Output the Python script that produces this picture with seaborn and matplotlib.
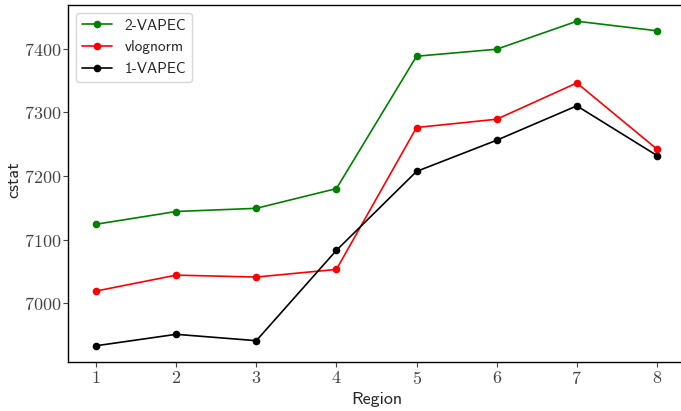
import pandas as pd
import numpy as np
import matplotlib
import matplotlib.pyplot as plt
import seaborn as sns

matplotlib.use('Agg')

# values
regions = [1, 2, 3, 4, 5, 6, 7, 8]
vapec2 = [7124, 7144, 7149, 7180, 7388, 7399, 7443, 7428]
vlognorm = [7019, 7044, 7041, 7053, 7276, 7289, 7346, 7242]
vapec1 = [6933, 6951, 6941, 7083, 7207, 7256, 7310, 7232]

models = ['2-VAPEC', 'vlognorm', '1-VAPEC']
colors = ['green', 'red', 'black']

data = pd.DataFrame({
    'Region': regions * 3,
    'cstat': vapec2 + vlognorm + vapec1,
    'model': np.repeat(models, len(regions)),
})

sns.set_style('ticks')
plt.rcParams['font.family'] = ['cmss10', 'DejaVu Sans']
plt.rcParams['axes.formatter.use_mathtext'] = True

fig = plt.figure(figsize=(6.81, 4.11), dpi=100)
ax = fig.add_axes([68 / 681, 1 - 362 / 411, 617 / 681, 357 / 411])

sns.lineplot(data=data, x='Region', y='cstat', hue='model', hue_order=models,
             palette=colors, marker='o', markersize=5.5, markeredgewidth=0,
             linewidth=1.2, ax=ax)

ax.set_xticks(regions)
for lab in ax.get_xticklabels() + ax.get_yticklabels():
    lab.set_fontfamily('cmr10')
    lab.set_fontsize(13)
    lab.set_color('#444444')
ax.tick_params(colors='#444444', length=3.5)
ax.tick_params(axis='x', pad=2)
ax.tick_params(axis='y', pad=1)
ax.set_xlabel('Region', fontsize=13)
ax.set_ylabel('cstat', fontsize=13, va='center')
ax.xaxis.set_label_coords(0.5, -0.085)
ax.yaxis.set_label_coords(-0.087, 0.51)
for s in ax.spines.values():
    s.set_color('black')
    s.set_linewidth(1)

leg = ax.legend(loc='upper left', fontsize=11, frameon=True)
leg.set_title(None)

fig.savefig('out.png', dpi=100)
